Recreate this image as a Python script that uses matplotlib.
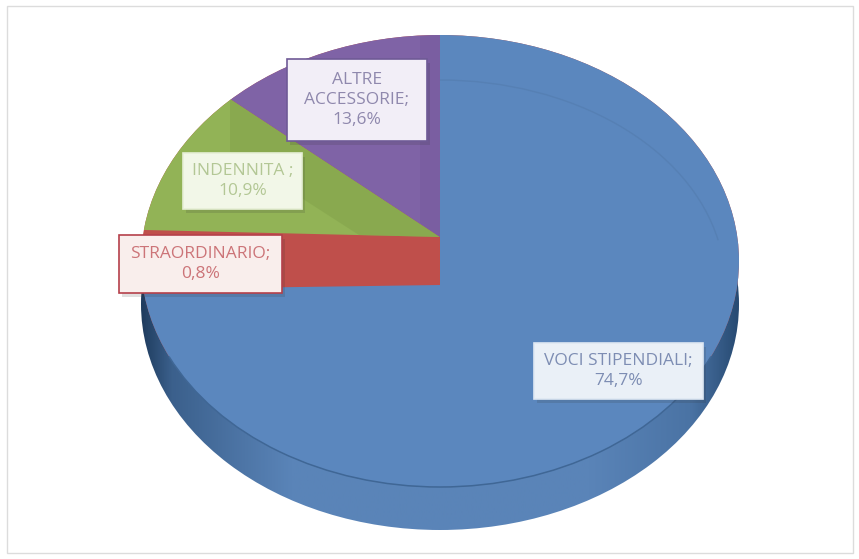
import numpy as np
import matplotlib
matplotlib.use('Agg')
import matplotlib.pyplot as plt
from matplotlib.colors import LinearSegmentedColormap
from matplotlib.patches import Arc, Ellipse, Polygon, Rectangle

plt.rcParams['font.family'] = ['Open Sans', 'DejaVu Sans']

# dati
categories = ['VOCI STIPENDIALI', 'STRAORDINARIO', 'INDENNITA ', 'ALTRE ACCESSORIE']
values = [74.7, 0.8, 10.9, 13.6]
labels = ['VOCI STIPENDIALI;\n74,7%', 'STRAORDINARIO;\n0,8%', 'INDENNITA ;\n10,9%', 'ALTRE\nACCESSORIE;\n13,6%']
colors = ['#5b87be', '#bf4f4b', '#92b356', '#7f63a6']

W, H = 859, 559
cx, cy, rx, ry = 440, 261, 299, 226
depth = 43 / ry
gap = 24 / ry

fig = plt.figure(figsize=(W / 100, H / 100), dpi=100, facecolor='white')
ax = fig.add_axes([0, 0, 1, 1])

# bordo del grafico
fig.add_artist(Rectangle((7 / W, 1 - 553 / H), 846 / W, 547 / H, transform=fig.transFigure,
                         fill=False, ec='#dcdcdc', lw=1))

# fianco del disco, con il gradiente
side = Ellipse((0, -depth), 2, 2, fc='none', ec='none')
ax.add_patch(side)
side_cmap = LinearSegmentedColormap.from_list('side', [(0, '#1f3c5e'), (0.05, '#3b608c'), (0.25, '#5a84b8'),
                                                       (0.75, '#5a84b8'), (0.92, '#4a73a4'), (1, '#274a72')])
im = ax.imshow(np.linspace(0, 1, 256)[None, :], cmap=side_cmap, aspect='auto',
               extent=(-1, 1, -1 - depth, 1 - depth), zorder=1)
im.set_clip_path(side)

# faccia superiore: le fette sono spostate e tagliate dall'ellisse
face = Ellipse((0, 0), 2, 2, fc=colors[1], ec='none', zorder=2)
ax.add_patch(face)

wedges_low, _ = ax.pie(values, radius=1.5, center=(0, -gap), startangle=90, counterclock=False,
                       colors=colors, wedgeprops={'linewidth': 0, 'zorder': 3})
wedges_high, _ = ax.pie(values, radius=1.5, center=(0, gap), startangle=90, counterclock=False,
                        colors=colors, wedgeprops={'linewidth': 0, 'zorder': 4})
for w in wedges_low[1:]:
    w.remove()
wedges_high[0].remove()
wedges_high[1].remove()
for w in [wedges_low[0], wedges_high[2], wedges_high[3]]:
    w.set_clip_on(True)
    w.set_clip_path(face)

# riflessi sul verde e sul viola
def px(x, y):
    return ((x - cx) / rx, (cy - y) / ry)

shade = Polygon([px(230, 99), px(440, 237), px(362, 237), px(230, 152)], fc='#7f9f48', ec='none', alpha=0.45, zorder=5)
ax.add_patch(shade)
shade.set_clip_path(wedges_high[2])
strip = Polygon([px(420, 36), px(440, 35), px(440, 237), px(420, 223)], fc='#6f5596', ec='none', alpha=0.3, zorder=5)
ax.add_patch(strip)

# linee del bordo della faccia
ax.add_patch(Arc((0, 0), 2, 2, theta1=205, theta2=335, color='#3f6796', lw=1.1, zorder=6))
ax.add_patch(Arc((0, -gap), 2 * 285 / rx, 2 * 205 / ry, theta1=12, theta2=90, color='#5680b4', lw=1, zorder=6))

ax.set_xlim((0 - cx) / rx, (W - cx) / rx)
ax.set_ylim((cy - H) / ry, cy / ry)
ax.set_aspect('auto')
ax.axis('off')

# etichette, in pixel
ov = fig.add_axes([0, 0, 1, 1], facecolor='none')
ov.set_xlim(0, W)
ov.set_ylim(H, 0)
ov.axis('off')

boxes = [(534, 343, 169, 56), (119, 235, 163, 58), (183, 153, 119, 56), (287, 59, 140, 82)]
box_faces = ['#eaf0f7', '#f9eeec', '#f2f7e8', '#f2eef7']
box_edges = ['#dfe8f3', '#b5404a', '#e6efd6', '#6f5a96']
text_colors = ['#7d8db3', '#cc7478', '#b3c795', '#8f88ad']

for (x, y, w, h), fc, ec, tc, lab in zip(boxes, box_faces, box_edges, text_colors, labels):
    ov.add_patch(Rectangle((x + 3, y + 4), w, h, fc='#303030', ec='none', alpha=0.15))
    ov.add_patch(Rectangle((x, y), w, h, fc=fc, ec=ec, lw=1.2))
    ov.text(x + w / 2, y + h / 2, lab, ha='center', va='center', color=tc, fontsize=12.5, linespacing=1.3)

fig.savefig('out.png', dpi=100)
